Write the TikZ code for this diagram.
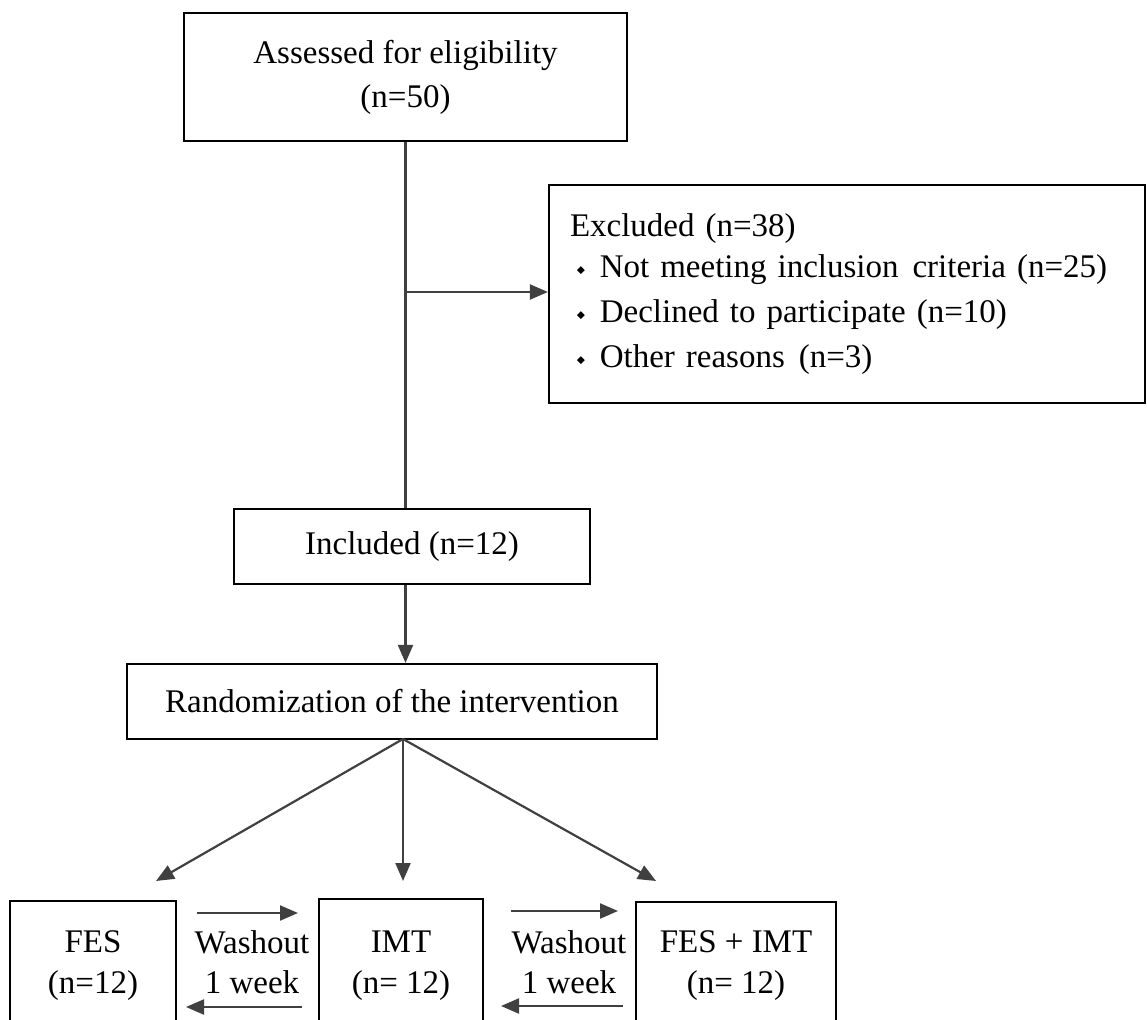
\documentclass[tikz,border=0pt]{standalone}
\usepackage{fontspec}
\setmainfont{Liberation Serif}
\usepackage{graphicx}
\usetikzlibrary{arrows.meta}
\newcommand{\dbul}{\raisebox{3.5pt}{\rotatebox{45}{\rule{5.5pt}{5.5pt}}}}
\begin{document}
\begin{tikzpicture}[x=1pt,y=-1pt,
  box/.style={draw=black, line width=2.2pt, inner sep=0pt, align=center, font=\fontsize{33}{44}\selectfont},
  lbl/.style={inner sep=0pt, align=center, font=\fontsize{33}{40}\selectfont},
  conn/.style={draw=black!75, line width=2.2pt},
  arr/.style={conn, -{Triangle[length=18pt,width=15pt]}}]
\useasboundingbox (0,0) rectangle (1147,1019);
% boxes
\node[box, minimum width=443pt, minimum height=128pt] (assess) at (405.5,77) {Assessed for eligibility\\(n=50)};
\node[box, align=left, minimum width=596pt, minimum height=218pt, text width=554pt,
      font=\fontsize{33}{45}\selectfont] (excl) at (847,294)
  {\raisebox{-4pt}{Excluded (n=38)}\\
   \hspace*{7pt}\dbul\hspace{15pt}Not meeting inclusion\hspace{3pt} criteria (n=25)\\
   \hspace*{7pt}\dbul\hspace{15pt}Declined to participate (n=10)\\
   \hspace*{7pt}\dbul\hspace{15pt}Other reasons\hspace{3pt} (n=3)};
\node[box, minimum width=356pt, minimum height=75pt] (incl) at (412,546.5) {Included (n=12)};
\node[box, minimum width=530pt, minimum height=75pt] (rand) at (392,701.5) {Randomization of the intervention};
\node[box, minimum width=166pt, minimum height=130pt, font=\fontsize{33}{41}\selectfont] (fes) at (93,966) {FES\\(n=12)};
\node[box, minimum width=164pt, minimum height=134pt, font=\fontsize{33}{41}\selectfont] (imt) at (401,966) {IMT\\(n= 12)};
\node[box, minimum width=200pt, minimum height=128pt, font=\fontsize{33}{41}\selectfont] (comb) at (736,966) {FES + IMT\\(n= 12)};
\node[lbl] (w1) at (252,962) {Washout\\1 week};
\node[lbl] (w2) at (569,962) {Washout\\1 week};
% coordinates
\coordinate (br) at (405.5,292);
\coordinate (fork) at (403,739);
\coordinate (tF) at (156,881);
\coordinate (tI) at (403,881);
\coordinate (tC) at (656,881);
\coordinate (r1s) at (197,913);
\coordinate (r1e) at (298,913);
\coordinate (l1s) at (302,1007);
\coordinate (l1e) at (186,1007);
\coordinate (r2s) at (511,911);
\coordinate (r2e) at (618,911);
\coordinate (l2s) at (623,1006);
\coordinate (l2e) at (501,1006);
% connectors
\draw[conn] (assess.south) -- (assess.south |- incl.north);
\draw[arr] (br) -- (excl.west |- br);
\draw[arr] (assess.south |- incl.south) -- (assess.south |- rand.north);
\draw[arr] (fork) -- (tF);
\draw[arr] (fork) -- (tI);
\draw[arr] (fork) -- (tC);
\draw[arr] (r1s) -- (r1e);
\draw[arr] (l1s) -- (l1e);
\draw[arr] (r2s) -- (r2e);
\draw[arr] (l2s) -- (l2e);
\end{tikzpicture}
\end{document}
